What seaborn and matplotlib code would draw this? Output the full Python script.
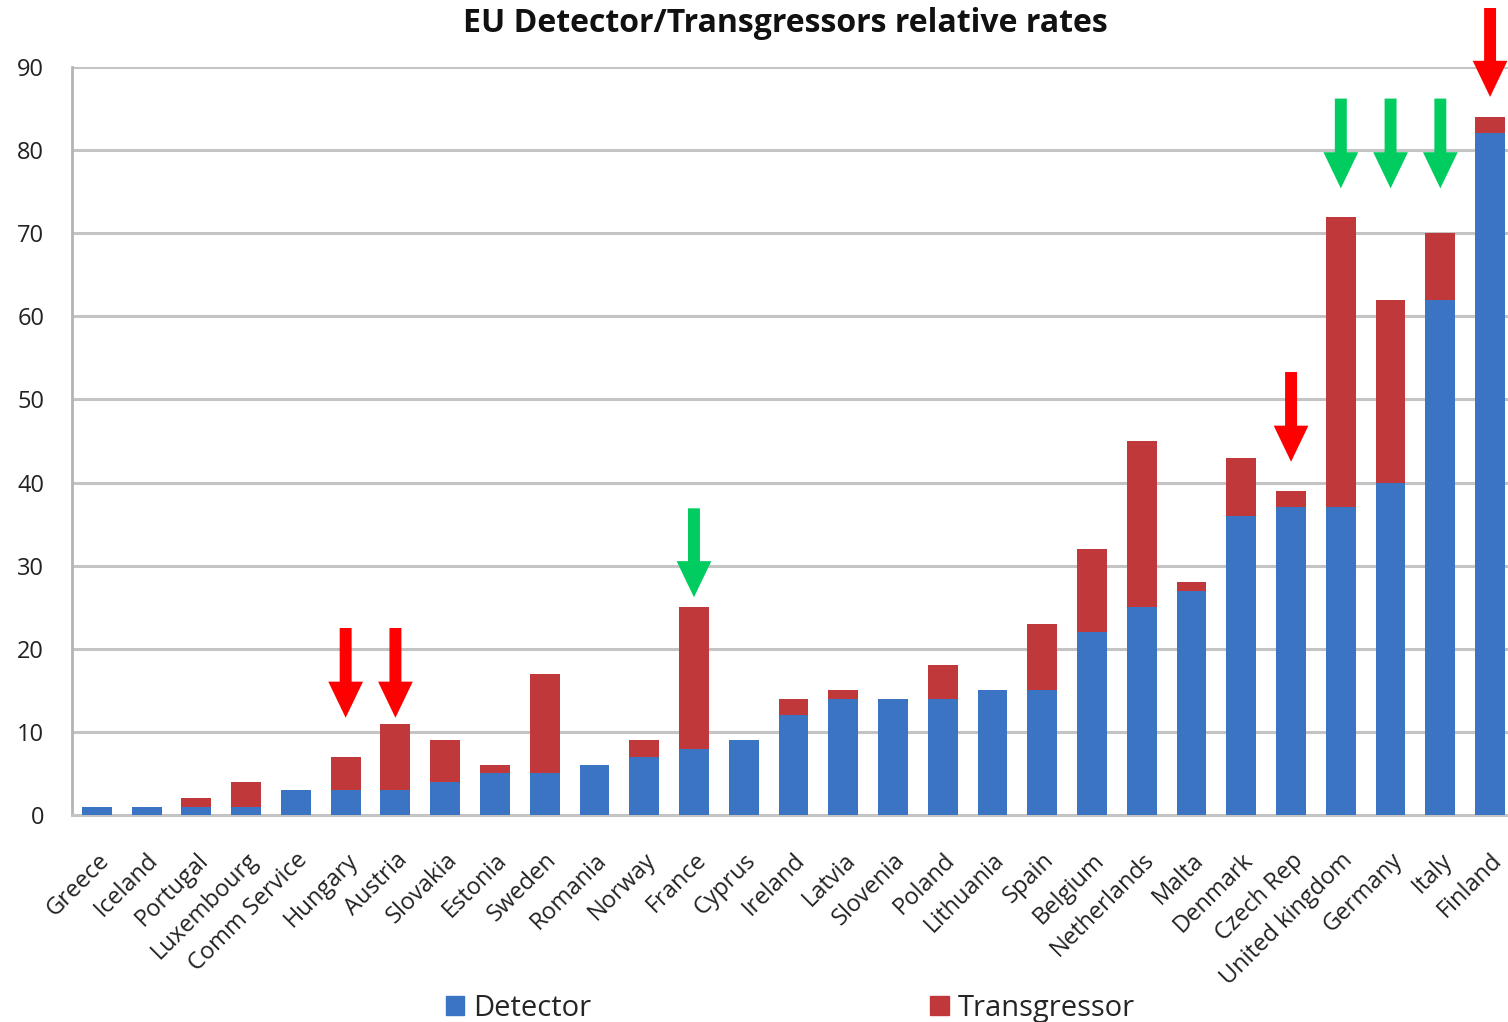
import matplotlib
matplotlib.use('Agg')
import matplotlib.pyplot as plt
import seaborn as sns
import pandas as pd
from matplotlib.patches import Patch

countries = ['Greece', 'Iceland', 'Portugal', 'Luxembourg', 'Comm Service', 'Hungary',
             'Austria', 'Slovakia', 'Estonia', 'Sweden', 'Romania', 'Norway', 'France',
             'Cyprus', 'Ireland', 'Latvia', 'Slovenia', 'Poland', 'Lithuania', 'Spain',
             'Belgium', 'Netherlands', 'Malta', 'Denmark', 'Czech Rep', 'United kingdom',
             'Germany', 'Italy', 'Finland']
detector = [1, 1, 1, 1, 3, 3, 3, 4, 5, 5, 6, 7, 8, 9, 12, 14, 14, 14, 15, 15,
            22, 25, 27, 36, 37, 37, 40, 62, 82]
transgressor = [0, 0, 1, 3, 0, 4, 8, 5, 1, 12, 0, 2, 17, 0, 2, 1, 0, 4, 0, 8,
                10, 20, 1, 7, 2, 35, 22, 8, 2]

red_arrow_countries = ['Hungary', 'Austria', 'Czech Rep', 'Finland']
red_arrow_tail = [22.5, 22.5, 53.3, 97.1]
red_arrow_tip = [11.7, 11.7, 42.5, 86.4]
green_arrow_countries = ['France', 'United kingdom', 'Germany', 'Italy']
green_arrow_tail = [36.9, 86.2, 86.2, 86.2]
green_arrow_tip = [26.2, 75.4, 75.4, 75.4]
yticks = list(range(0, 100, 10))

BLUE = '#3a74c2'
RED = '#c0383a'

sns.set_theme(style='white')
plt.rcParams['font.family'] = ['Open Sans', 'DejaVu Sans']

df = pd.DataFrame({'Country': countries, 'Detector': detector, 'Transgressor': transgressor})
df['Total'] = df['Detector'] + df['Transgressor']

W, H = 1508, 1022
fig = plt.figure(figsize=(W / 100, H / 100), dpi=100)
ax = fig.add_axes([72 / W, 207 / H, 1436 / W, 748 / H])

sns.barplot(data=df, x='Country', y='Total', color=RED, width=0.6, saturation=1,
            errorbar=None, ax=ax, zorder=3, linewidth=0)
sns.barplot(data=df, x='Country', y='Detector', color=BLUE, width=0.6, saturation=1,
            errorbar=None, ax=ax, zorder=3, linewidth=0)

ax.set_xlim(-0.5, 28.36)
ax.set_ylim(0, 90)
ax.set_yticks(yticks)
ax.set_xlabel('')
ax.set_ylabel('')
ax.set_axisbelow(True)
ax.yaxis.grid(True, color='#c4c4c4', lw=2.2)
ax.xaxis.grid(False)
for s in ['top', 'right']:
    ax.spines[s].set_visible(False)
ax.spines['left'].set_color('#b4b4b4')
ax.spines['left'].set_linewidth(2)
ax.spines['bottom'].set_color('#c4c4c4')
ax.spines['bottom'].set_linewidth(2.2)

ax.tick_params(axis='y', length=0, pad=20, labelsize=17, labelcolor='#222222')
ax.tick_params(axis='x', length=0, pad=24, labelsize=17, labelcolor='#222222')
for lab in ax.get_xticklabels():
    lab.set_rotation(45)
    lab.set_ha('right')
    lab.set_va('top')
    lab.set_rotation_mode('anchor')

pos = {c: i for i, c in enumerate(countries)}


def draw_arrows(names, tails, tips, color):
    for c, tail, tip in zip(names, tails, tips):
        ax.annotate('', xy=(pos[c], tip), xytext=(pos[c], tail),
                    arrowprops=dict(arrowstyle='simple,head_length=2.6,head_width=2.5,tail_width=0.86',
                                    mutation_scale=10, color=color, lw=0,
                                    shrinkA=0, shrinkB=0),
                    annotation_clip=False, zorder=6)


draw_arrows(red_arrow_countries, red_arrow_tail, red_arrow_tip, '#ff0000')
draw_arrows(green_arrow_countries, green_arrow_tail, green_arrow_tip, '#00cc5f')

fig.text(785 / W, 1 - 24 / H, 'EU Detector/Transgressors relative rates',
         ha='center', va='center', fontsize=23, fontweight='bold', color='#111111')

handles = [Patch(color=BLUE, label='Detector'), Patch(color=RED, label='Transgressor')]
fig.legend(handles=handles, loc='center', bbox_to_anchor=(790 / W, 1 - 1008 / H), ncol=2,
           frameon=False, fontsize=21, columnspacing=11.6, handlelength=0.65,
           handleheight=0.65, handletextpad=0.3, borderaxespad=0, borderpad=0)

fig.savefig('out.png', dpi=100)
